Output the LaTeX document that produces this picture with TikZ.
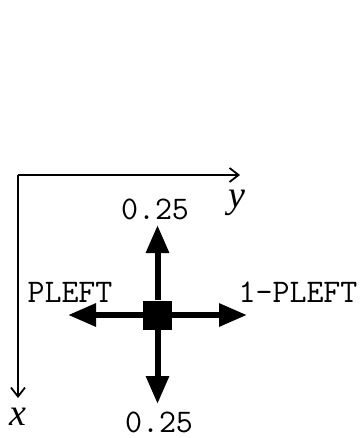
\documentclass[tikz,border=0pt]{standalone}
\usepackage{fontspec}
\newfontfamily\axisfont{Liberation Serif}
\usetikzlibrary{positioning,calc,arrows.meta}

\begin{document}
\begin{tikzpicture}[
    x=1pt, y=-1pt,
    cell/.style={rectangle, fill=black, draw=none, minimum size=29pt, inner sep=0pt},
    prob/.style={inner sep=0pt, font=\fontsize{33}{33}\selectfont\ttfamily},
    axlabel/.style={inner sep=0pt, font=\fontsize{38}{38}\selectfont\axisfont\itshape},
    axis/.style={draw=black, line width=1.8pt, -{Straight Barb[length=9pt, width=14pt, line width=1.8pt]}},
    move/.style={draw=black, line width=6pt, -{Triangle[length=28pt, width=22pt]}}
]
    \useasboundingbox (0,0) rectangle (361,438);

    % Axes
    \coordinate (origin) at (18,175);
    \coordinate (yend) at (240,175);
    \coordinate (xend) at (18,398);
    \draw [axis] (xend |- origin) -- (yend);
    \draw [axis] (origin) -- (xend);
    \node (ylab) at (237,203) [axlabel] {y};
    \node (xlab) at (18,417) [axlabel] {x};

    % Centre cell
    \node (cell) at (157.5,315) [cell] {};

    % Move ends
    \coordinate (up) at (157.5,225);
    \coordinate (down) at (157.5,404);
    \coordinate (left) at (68,315);
    \coordinate (right) at (247,315);

    % Probability labels
    \node (pup) at (155,209) [prob] {0.25};
    \node (pdown) at (159,422) [prob] {0.25};
    \node (pleft) at (70,292) [prob] {PLEFT};
    \node (pright) at (298,292) [prob] {1-PLEFT};

    % Move arrows
    \draw [move] (cell.north) -- (up);
    \draw [move] (cell.south) -- (down);
    \draw [move] (cell.west) -- (left);
    \draw [move] (cell.east) -- (right);

\end{tikzpicture}
\end{document}
